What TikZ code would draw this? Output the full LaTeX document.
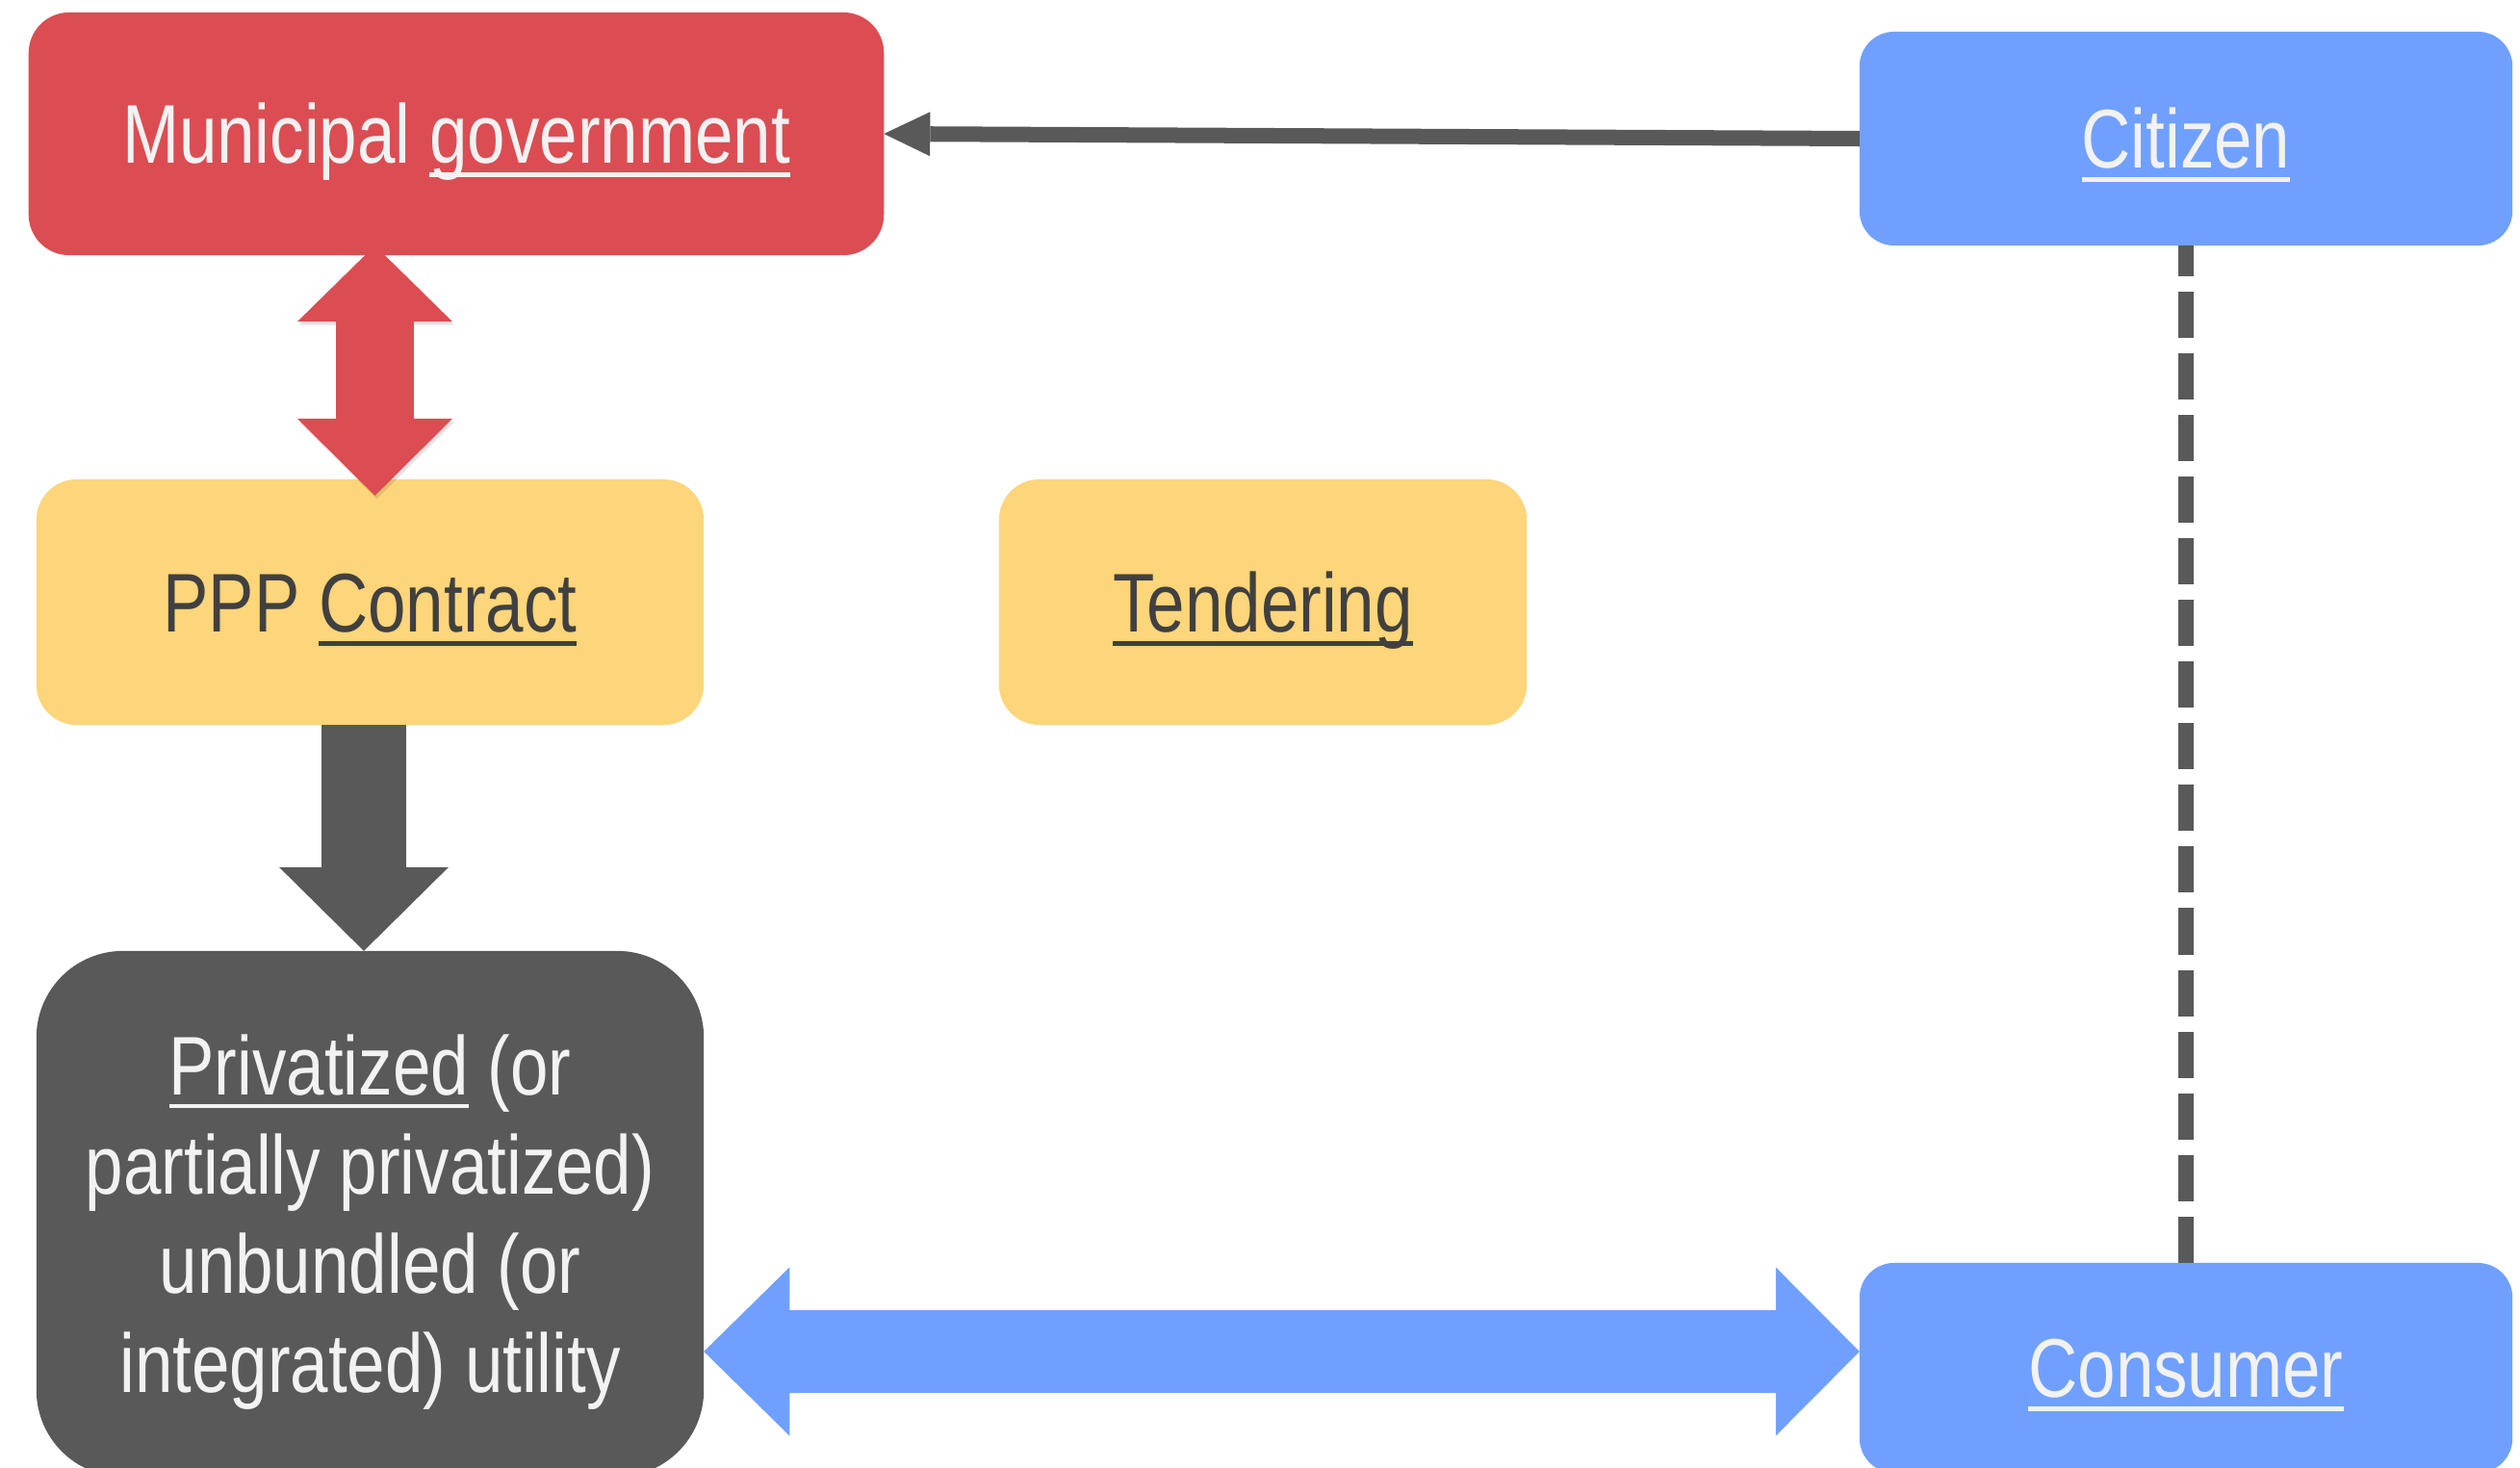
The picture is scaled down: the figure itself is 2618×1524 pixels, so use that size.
\documentclass[tikz,border=0pt]{standalone}
\usepackage{fontspec}
\setmainfont{Liberation Sans}[FakeStretch=0.82]
\usepackage{xcolor}
\usetikzlibrary{positioning}
\usetikzlibrary{arrows.meta}
\definecolor{govred}{RGB}{219,77,82}
\definecolor{citblue}{RGB}{112,160,255}
\definecolor{pppyellow}{RGB}{253,213,122}
\definecolor{utilgray}{RGB}{89,89,89}
\definecolor{lighttext}{RGB}{242,242,242}
\definecolor{darktext}{RGB}{64,64,64}
\newcommand\ulword[1]{%
  \setbox0\hbox{#1}\rlap{\rule[-4pt]{\wd0}{1.4pt}}\box0\relax}
\tikzset{
  box/.style={rounded corners=0.42cm, inner sep=0, outer sep=0, align=center,
    text height=17.6pt, text depth=0pt, font=\fontsize{24.6pt}{29.3pt}\selectfont},
  redbox/.style={box, fill=govred, text=lighttext},
  bluebox/.style={box, fill=citblue, text=lighttext, rounded corners=0.36cm,
    minimum width=6.78cm},
  yellowbox/.style={box, fill=pppyellow, text=darktext, minimum height=2.55cm}
}

\begin{document}
\begin{tikzpicture}[x=0.01cm, y=-0.01cm]
    \useasboundingbox (0,0) rectangle (2618,1524);
    \clip (0,0) rectangle (2618,1524);
    % boxes
    \node[redbox, minimum width=8.88cm, minimum height=2.52cm] (gov) at (474,139) {Municipal \ulword{government}};
    \node[bluebox, minimum height=2.22cm] (cit) at (2271,144) {\ulword{Citizen}};
    \node[yellowbox, minimum width=6.93cm] (ppp) at (384.5,625.5) {PPP \ulword{Contract}};
    \node[yellowbox, minimum width=5.48cm] (tend) at (1312,625.5) {\ulword{Tendering}};
    \node[box, fill=utilgray, text=lighttext, rounded corners=0.9cm, minimum width=6.93cm, minimum height=5.46cm,
      text height=105.5pt] (util) at (384.5,1261)
      {\ulword{Privatized} (or\\partially privatized)\\unbundled (or\\integrated) utility};
    \node[bluebox, minimum height=2.18cm] (cons) at (2271,1421) {\ulword{Consumer}};
    % links
    \draw[utilgray, line width=0.16cm, -{Triangle[length=0.48cm, width=0.46cm, line width=0pt]}] (cit.west) -- (gov.east);
    \draw[utilgray, line width=0.16cm, dash pattern=on 0.48cm off 0.16cm, dash phase=0.16cm] (cit.south) -- (cons.north);
    \draw[govred, line width=0.8cm,
      {Triangle[length=0.79cm, width=1.61cm, line width=0pt]}-{Triangle[length=0.8cm, width=1.61cm, line width=0pt]},
      shorten <=-0.1cm, shorten >=-0.17cm,
      preaction={draw=black, opacity=0.1, transform canvas={xshift=0.02cm, yshift=-0.035cm}}]
      ([xshift=0.05cm]ppp.north |- gov.south) -- ([xshift=0.05cm]ppp.north);
    \draw[utilgray, line width=0.88cm, -{Triangle[length=0.87cm, width=1.76cm, line width=0pt]}]
      ([xshift=-0.065cm]ppp.south) -- ([xshift=-0.065cm]util.north);
    \coordinate (link) at ([yshift=0.17cm]cons.west);
    \draw[citblue, line width=0.86cm,
      {Triangle[length=0.89cm, width=1.75cm, line width=0pt]}-{Triangle[length=0.87cm, width=1.75cm, line width=0pt]}]
      (link -| util.east) -- (link);
\end{tikzpicture}
\end{document}
